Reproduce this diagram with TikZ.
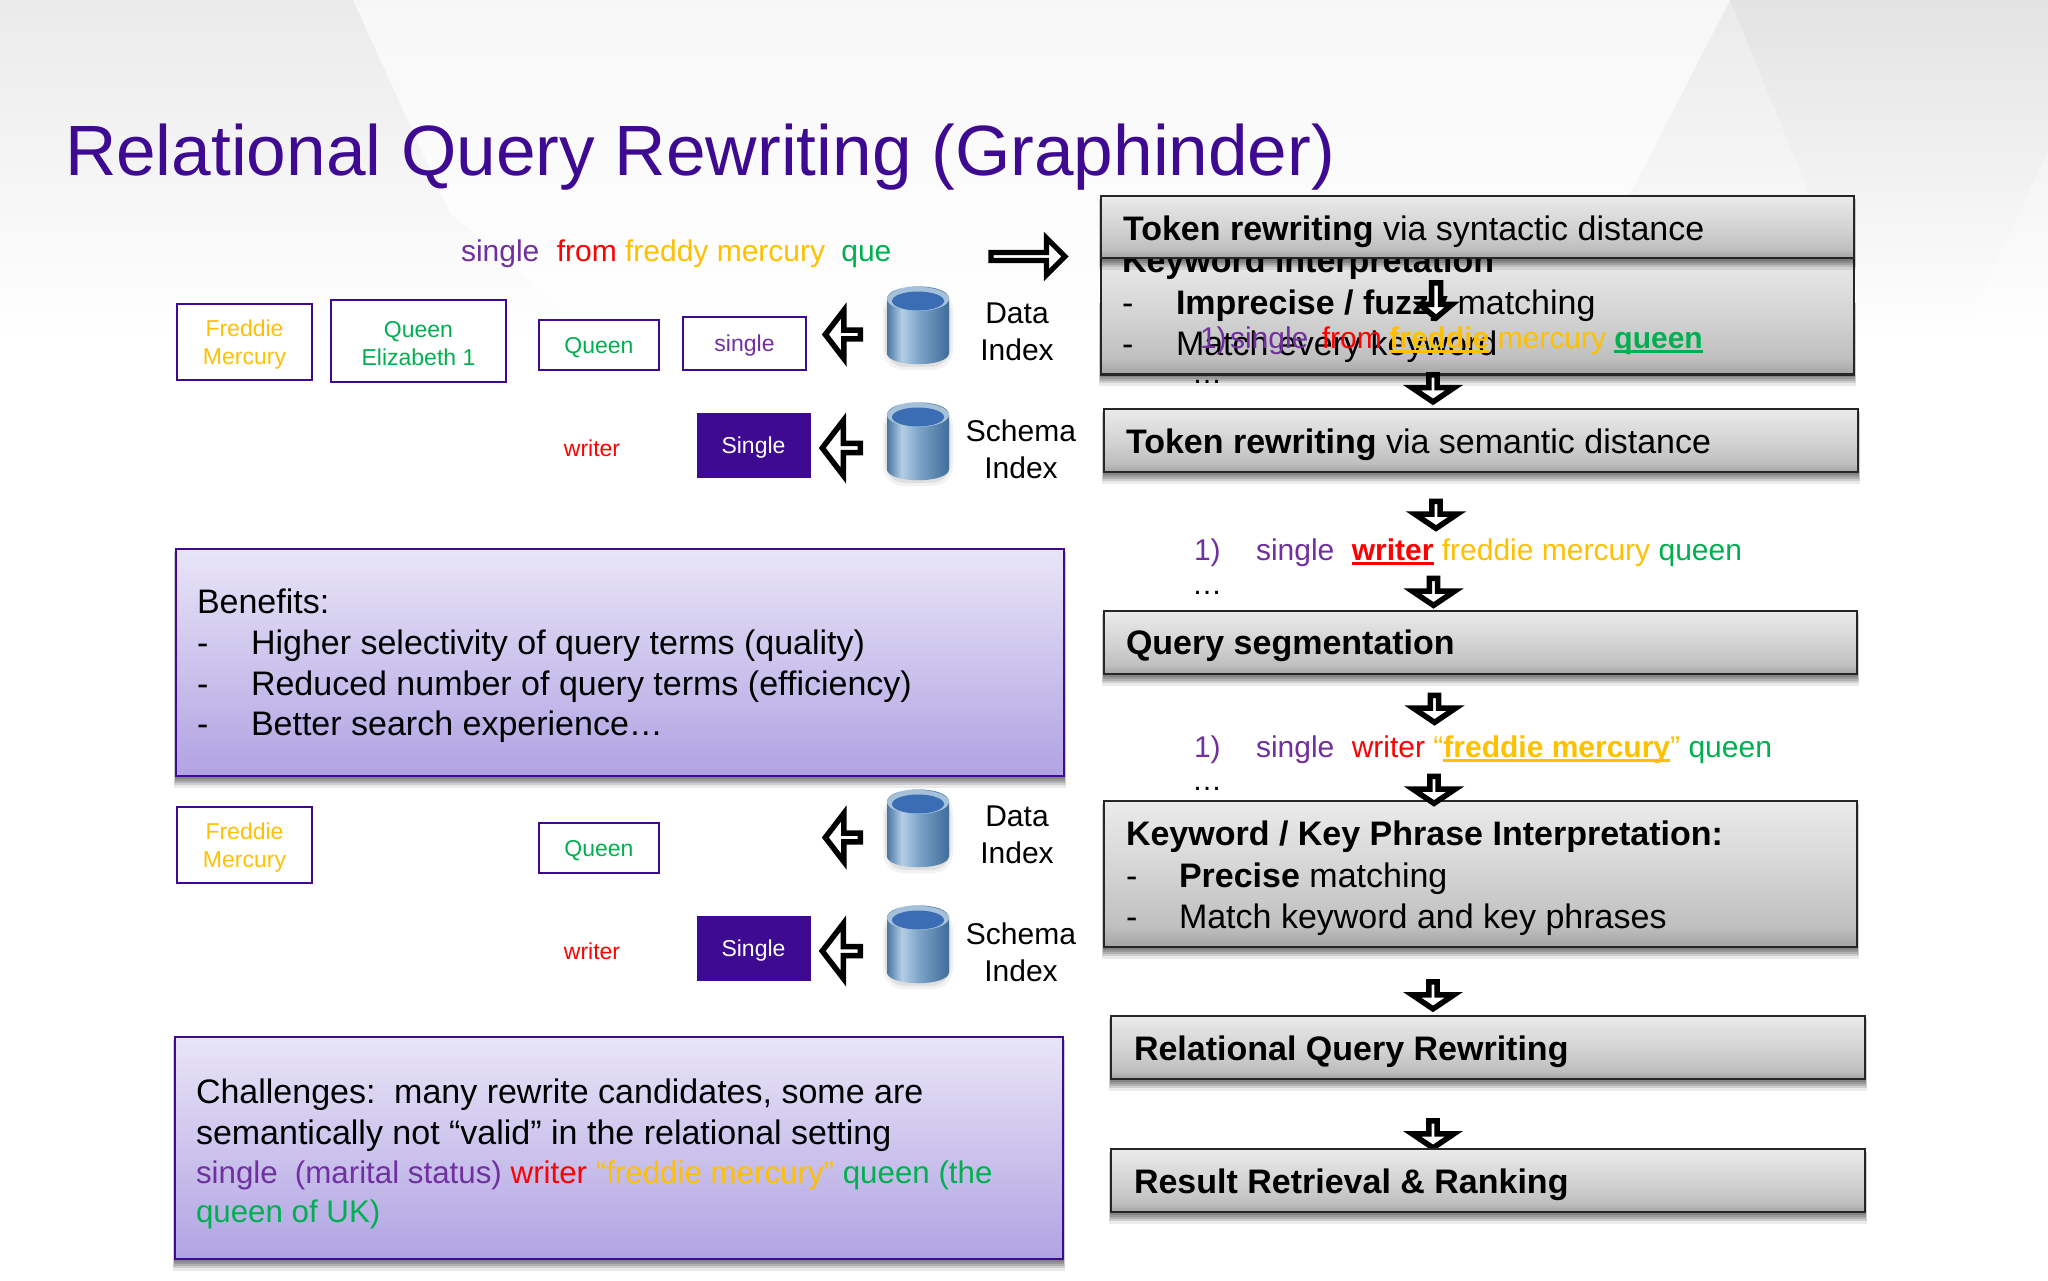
\documentclass[tikz,border=0pt]{standalone}
\usepackage{fontspec}
\setmainfont{Liberation Sans}
\usetikzlibrary{shapes.arrows}
\definecolor{indigoT}{HTML}{3D0A91}
\definecolor{pur}{HTML}{7030A0}
\definecolor{redT}{HTML}{FF0000}
\definecolor{yel}{HTML}{FFC000}
\definecolor{grn}{HTML}{00B050}
\definecolor{purA}{HTML}{E9E5F7}
\definecolor{purB}{HTML}{B0A3E3}
\definecolor{db1}{HTML}{4A76A0}
\definecolor{db2}{HTML}{B3CEE6}
\definecolor{db3}{HTML}{7FA6C9}
\definecolor{db4}{HTML}{3F6C99}
\definecolor{dbtop}{HTML}{3B6DB5}
\pgfdeclareverticalshading{grayboxshade}{100bp}{color(0bp)=(black!36);color(25bp)=(black!36);color(32bp)=(black!25);color(50bp)=(black!17);color(75bp)=(black!8);color(100bp)=(black!8)}
\pgfdeclareverticalshading{purboxshade}{100bp}{color(0bp)=(purB);color(25bp)=(purB);color(75bp)=(purA);color(100bp)=(purA)}
\pgfdeclarehorizontalshading{dbshade}{100bp}{color(0bp)=(db1);color(25bp)=(db1);color(37bp)=(db2);color(50bp)=(db3);color(75bp)=(db4);color(100bp)=(db4)}
\pgfdeclareverticalshading{bgshade}{100bp}{color(0bp)=(white);color(25bp)=(white);color(75bp)=(black!8);color(100bp)=(black!8)}
\pgfdeclareverticalshading{bgcentre}{100bp}{color(0bp)=(white);color(25bp)=(white);color(75bp)=(black!3);color(100bp)=(black!3)}
\pgfdeclareverticalshading{bgright}{100bp}{color(0bp)=(white);color(25bp)=(white);color(75bp)=(black!11);color(100bp)=(black!11)}
\newsavebox\ulbox
\newcommand\ulx[2][2.6pt]{\sbox\ulbox{#2}\rlap{\usebox\ulbox}\rule[-#1]{\wd\ulbox}{1.5pt}}
\newcommand\softshadow[4]{%
  \foreach \d/\o in {1/.10,3/.12,5/.14,7/.14,9/.12,12/.08}{
    \fill[black,opacity=\o] (#1-\d*.2,#2+3) rectangle (#3+\d*.2,#4+\d);
  }}
\tikzset{
  x=.5pt,y=-.5pt,
  fbody/.style={font=\fontsize{17}{20}\selectfont},
  txt/.style={fbody,inner sep=0pt,outer sep=0pt,anchor=base west},
  ftext/.style={txt,font=\fontsize{15}{18}\selectfont},
  cfont/.style={txt,font=\fontsize{15.65}{19}\selectfont},
  grbox/.style={draw=black!85,line width=1.4pt,shading=grayboxshade,inner sep=0pt,outer sep=0pt},
  pbox/.style={draw=indigoT,line width=1.3pt,shading=purboxshade,inner sep=0pt,outer sep=0pt},
  lbox/.style={draw=indigoT,line width=1.3pt,fill=white,inner sep=0pt},
  ltxt/.style={inner sep=0pt,align=center,yshift=-1.2pt,font=\fontsize{11.5}{13.8}\selectfont},
  sbox/.style={fill=indigoT,draw=indigoT,inner sep=0pt},
  lbl/.style={inner sep=0pt,align=center,font=\fontsize{15}{18.5}\selectfont},
  blockarrow/.style={shape=single arrow,draw=black,fill=white,line width=2.75pt,miter limit=6,inner sep=0pt,outer sep=0pt,single arrow head indent=0pt},
  downarrow/.style={blockarrow,shape border rotate=270,minimum height=13.5pt,minimum width=21pt,single arrow head extend=5.6pt,single arrow tip angle=112},
  leftsmall/.style={blockarrow,shape border rotate=180,minimum height=17.5pt,minimum width=24pt,single arrow head extend=6.25pt,single arrow tip angle=105},
  leftbig/.style={blockarrow,shape border rotate=180,minimum height=19pt,minimum width=27.5pt,single arrow head extend=7pt,single arrow tip angle=105},
  dbicon/.pic={
    \fill[black,opacity=.05,rounded corners=10] (-35,-36) rectangle (35,44);
    \fill[black,opacity=.07,rounded corners=10] (-33,-33) rectangle (33,41);
    \shade[shading=dbshade] (-31,-27) -- (-31,27) .. controls (-31,42) and (31,42) .. (31,27) -- (31,-27) .. controls (31,-44) and (-31,-44) .. (-31,-27) -- cycle;
    \fill[db3!70!white] (0,-27) ellipse [x radius=31,y radius=12];
    \fill[dbtop] (0,-25) ellipse [x radius=26,y radius=9.5];
  },
}
\begin{document}
\begin{tikzpicture}
\useasboundingbox (0,0) rectangle (2048,1280);
% background
\fill[white] (0,0) rectangle (2048,1280);
\shade[shading=bgshade] (0,0) rectangle (2048,340);
\shade[shading=bgcentre] (353,0) -- (1730,0) -- (1632,190) -- (1500,340) -- (600,340) -- (450,213) -- cycle;
\shade[shading=bgright] (1730,0) -- (2048,0) -- (2048,150) -- (1960,340) -- (1870,340) -- cycle;
% title
\node[txt,text=indigoT,font=\fontsize{35.6}{40}\selectfont] (title) at (65,175) {Relational Query Rewriting (Graphinder)};
% query
\node[ftext] (query) at (461,261) {\textcolor{pur}{single}\hspace{.58em}\textcolor{redT}{from} \textcolor{yel}{freddy mercury}\hspace{.54em}\textcolor{grn}{que}};
\node[blockarrow,line width=2.6pt,minimum height=37pt,minimum width=18.5pt,single arrow head extend=4.75pt,single arrow tip angle=90] (qarrow) at (1026,256.5) {};
% upper index row
\node[lbox,minimum width=67.5pt,minimum height=38pt,label={[ltxt,text=yel]center:{Freddie\\Mercury}}] (fm1) at (244.5,342) {};
\node[lbox,minimum width=87.5pt,minimum height=41pt,label={[ltxt,text=grn]center:{Queen\\Elizabeth 1}}] (qe1) at (418.5,341) {};
\node[lbox,minimum width=60pt,minimum height=25pt,label={[ltxt,text=grn]center:Queen}] (q1) at (599,345) {};
\node[lbox,minimum width=61.5pt,minimum height=26.5pt,label={[ltxt,text=pur]center:single}] (s1) at (744.5,343.5) {};
\node[leftsmall] (la1) at (844.5,334.5) {};
\pic at (918,326) {dbicon};
\node[lbl] (di1) at (1017,332) {Data\\Index};
\node[inner sep=0pt,text=redT,font=\fontsize{11.5}{15}\selectfont] (w1) at (592,448) {writer};
\node[sbox,minimum width=56.5pt,minimum height=32pt,label={[ltxt,text=white]center:Single}] (si1) at (753.5,445) {};
\node[leftbig] (la2) at (843,448) {};
\pic at (918,442) {dbicon};
\node[lbl] (si1l) at (1021,449.5) {Schema\\Index};
% benefits
\softshadow{176}{549}{1064}{776}
\node[pbox,minimum width=444pt,minimum height=113.5pt] (ben) at (620,662.5) {};
\node[txt] (b0) at (197,613) {Benefits:};
\node[txt] (b1d) at (197,654) {-};
\node[txt] (b1) at (251,654) {Higher selectivity of query terms (quality)};
\node[txt] (b2d) at (197,695) {-};
\node[txt] (b2) at (251,695) {Reduced number of query terms (efficiency)};
\node[txt] (b3d) at (197,735) {-};
\node[txt] (b3) at (251,735) {Better search experience…};
% lower index row
\node[lbox,minimum width=67.5pt,minimum height=38pt,label={[ltxt,text=yel]center:{Freddie\\Mercury}}] (fm2) at (244.5,845) {};
\node[lbox,minimum width=60pt,minimum height=25pt,label={[ltxt,text=grn]center:Queen}] (q2) at (599,848) {};
\node[leftsmall] (la3) at (844.5,837.5) {};
\pic at (918,829) {dbicon};
\node[lbl] (di2) at (1017,835) {Data\\Index};
\node[inner sep=0pt,text=redT,font=\fontsize{11.5}{15}\selectfont] (w2) at (592,951) {writer};
\node[sbox,minimum width=56.5pt,minimum height=32pt,label={[ltxt,text=white]center:Single}] (si2) at (753.5,948) {};
\node[leftbig] (la4) at (843,951) {};
\pic at (918,945) {dbicon};
\node[lbl] (si2l) at (1021,952.5) {Schema\\Index};
% challenges
\softshadow{175}{1037}{1063}{1259}
\node[pbox,minimum width=444pt,minimum height=111pt] (cha) at (619,1148) {};
\node[txt] (c1) at (196,1103) {Challenges:\hspace{.55em}many rewrite candidates, some are};
\node[txt] (c2) at (196,1144) {semantically not “valid” in the relational setting};
\node[cfont] (c3) at (196,1183) {\textcolor{pur}{single\hspace{.55em}(marital status)} \textcolor{redT}{writer} \textcolor{yel}{“freddie mercury”} \textcolor{grn}{queen (the}};
\node[cfont,text=grn] (c4) at (196,1222) {queen of UK)};
% right column
\softshadow{1101}{300}{1854}{374}
\node[grbox,minimum width=376.5pt,minimum height=59pt] (kw) at (1477.5,315.5) {};
\node[txt,font=\bfseries\fontsize{17}{20}\selectfont] (kwh) at (1122,272) {Keyword interpretation};
\node[txt] (kw1d) at (1122,314) {-};
\node[txt] (kw1) at (1176,314) {\textbf{Imprecise / fuzzy} matching};
\node[txt] (kw2d) at (1122,355) {-};
\node[txt] (kw2) at (1176,355) {Match every keyword};
\node[ftext,text=black] (dots0) at (1192,383) {…};
\softshadow{1101}{196}{1854}{258}
\node[grbox,minimum width=376.5pt,minimum height=31pt] (tk1) at (1477.5,227) {};
\node[txt] (tk1t) at (1123,240) {\textbf{Token rewriting} via syntactic distance};
\node[ftext] (r0) at (1200,348) {\textcolor{pur}{1)}};
\node[ftext] (r1) at (1230,348) {\textcolor{pur}{single}\hspace{.45em}\textcolor{redT}{from}\hspace{.25em}\textcolor{yel}{\ulx{\textbf{freddie}} mercury} \textcolor{grn}{\ulx{\textbf{queen}}}};
\node[blockarrow,shape border rotate=270,minimum height=17.5pt,minimum width=16pt,single arrow head extend=3.5pt,single arrow tip angle=100] (ar0) at (1436,298.5) {};
\node[downarrow] (ar1) at (1433,387) {};
\softshadow{1104}{409}{1858}{472}
\node[grbox,minimum width=377pt,minimum height=31.5pt] (tk2) at (1481,440.5) {};
\node[txt] (tk2t) at (1126,453) {\textbf{Token rewriting} via semantic distance};
\node[downarrow] (ar2) at (1436,513.5) {};
\node[ftext] (s0) at (1194,560) {\textcolor{pur}{1)}};
\node[ftext] (s1) at (1256,560) {\textcolor{pur}{single}\hspace{.58em}\textcolor{redT}{\ulx{\textbf{writer}}} \textcolor{yel}{freddie mercury} \textcolor{grn}{queen}};
\node[ftext] (sd) at (1192,594) {…};
\node[downarrow] (ar3) at (1433.5,590.5) {};
\softshadow{1104}{611}{1857}{674}
\node[grbox,minimum width=376.5pt,minimum height=31.5pt] (seg) at (1480.5,642.5) {};
\node[txt] (segt) at (1126,654) {\textbf{Query segmentation}};
\node[downarrow] (ar4) at (1434.5,707.5) {};
\node[ftext] (t0) at (1194,757) {\textcolor{pur}{1)}};
\node[ftext] (t1) at (1256,757) {\textcolor{pur}{single}\hspace{.58em}\textcolor{redT}{writer} \textcolor{yel}{“\ulx{\textbf{freddie mercury}}”} \textcolor{grn}{queen}};
\node[ftext] (td) at (1192,790) {…};
\softshadow{1104}{801}{1857}{947}
\node[grbox,minimum width=376.5pt,minimum height=73pt] (kk) at (1480.5,874) {};
\node[downarrow] (ar5) at (1434,788.5) {};
\node[txt] (kkh) at (1126,845) {\textbf{Keyword / Key Phrase Interpretation:}};
\node[txt] (kk1d) at (1126,887) {-};
\node[txt] (kk1) at (1179,887) {\textbf{Precise} matching};
\node[txt] (kk2d) at (1126,928) {-};
\node[txt] (kk2) at (1179,928) {Match keyword and key phrases};
\node[downarrow] (ar6) at (1433,994) {};
\softshadow{1111}{1016}{1865}{1079}
\node[grbox,minimum width=377pt,minimum height=31.5pt] (rel) at (1488,1047.5) {};
\node[txt] (relt) at (1134,1060) {\textbf{Relational Query Rewriting}};
\node[downarrow] (ar7) at (1433,1133) {};
\softshadow{1111}{1149}{1865}{1212}
\node[grbox,minimum width=377pt,minimum height=31.5pt] (res) at (1488,1180.5) {};
\node[txt] (rest) at (1134,1193) {\textbf{Result Retrieval \& Ranking}};
\end{tikzpicture}
\end{document}
